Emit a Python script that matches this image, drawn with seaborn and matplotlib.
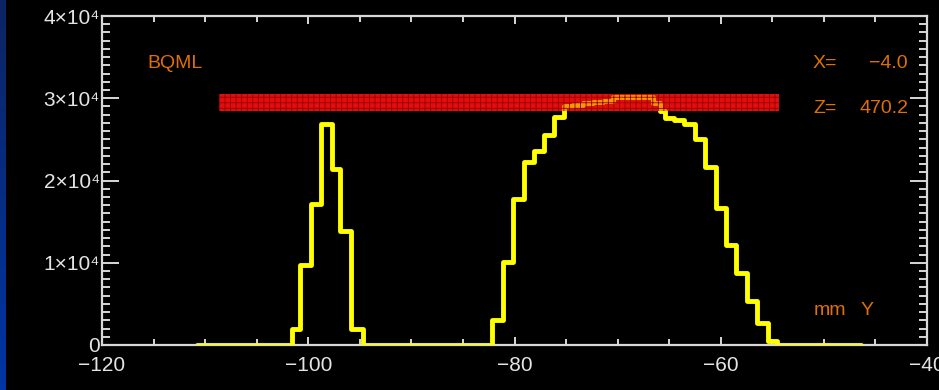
import numpy as np
import pandas as pd
import matplotlib
matplotlib.use("Agg")
import matplotlib.pyplot as plt
import seaborn as sns
from matplotlib import font_manager
from matplotlib.colors import LinearSegmentedColormap
from matplotlib.ticker import MultipleLocator

# profile along Y (mm): position where each step starts, and its level (BQML)
y_pos = [-110.8, -101.6, -100.8, -99.7, -98.8, -97.7, -96.9, -95.9, -94.7,
         -82.2, -81.1, -80.1, -79.1, -78.1, -77.1, -76.2, -75.2, -74.3,
         -73.4, -72.4, -71.4, -70.4, -69.4, -68.4, -67.4, -66.6, -65.9,
         -65.4, -64.5, -63.6, -62.5, -61.5, -60.5, -59.5, -58.5, -57.5,
         -56.5, -55.4, -54.5, -46.4]
counts = [0, 1950, 9700, 17200, 26900, 21400, 13900, 1950, 0,
          3100, 10100, 17700, 22200, 23600, 25500, 27700, 29000, 29200,
          29400, 29600, 29700, 30100, 30200, 30200, 30100, 29400, 28500,
          27600, 27400, 26900, 25100, 21600, 16600, 12200, 8800, 5300,
          2700, 500, 0, 0]

# red threshold band
band_x = [-108.7, -54.35]
band_lo = 28500
band_hi = 30500

x_ticks = [-120, -100, -80, -60, -40]
x_ticklabels = ["\u2212120", "\u2212100", "\u221280", "\u221260", "\u221240"]
y_ticks = [0, 10000, 20000, 30000, 40000]
y_ticklabels = ["0", "1\u00d710\u2074", "2\u00d710\u2074", "3\u00d710\u2074", "4\u00d710\u2074"]

unit_label = "BQML"
cursor_labels = ["X=", "Z="]
cursor_values = ["\u22124.0", "470.2"]
axis_unit = "mm"
axis_name = "Y"

sns.set_theme(style="ticks")
names = {f.name for f in font_manager.fontManager.ttflist}
narrow = "Liberation Sans Narrow" if "Liberation Sans Narrow" in names else "Liberation Sans"
plt.rcParams["font.family"] = [narrow, "DejaVu Sans"]

W, H = 939, 390
fig = plt.figure(figsize=(W / 100, H / 100), dpi=100, facecolor="black")
ax = fig.add_axes([102 / W, 45 / H, 825 / W, 329 / H])
ax.set_facecolor("black")

# blue strip on the left edge
strip = fig.add_axes([0, 0, 6 / W, 1])
strip_cmap = LinearSegmentedColormap.from_list("strip", ["#0b2563", "#0035a5"])
strip.imshow(np.linspace(0, 1, 100).reshape(-1, 1), aspect="auto", cmap=strip_cmap)
strip.axis("off")

df = pd.DataFrame({"y_mm": y_pos, "bqml": counts})

ax.fill_between(band_x, band_lo, band_hi, color="#dc1212", lw=0, zorder=2)
sns.lineplot(data=df, x="y_mm", y="bqml", drawstyle="steps-post", estimator=None,
             color="#ffff00", lw=3.5, ax=ax, zorder=3)
plt.rcParams["hatch.linewidth"] = 0.6
ax.fill_between(band_x, band_lo, band_hi, facecolor=(0.9, 0.05, 0.05, 0.42),
                edgecolor="#9a0000", hatch="+++", lw=0, zorder=4)

ax.set_xlim(-120, -40)
ax.set_ylim(0, 40000)
ax.set_xticks(x_ticks)
ax.set_xticklabels(x_ticklabels)
ax.set_yticks(y_ticks)
ax.set_yticklabels(y_ticklabels)
ax.xaxis.set_minor_locator(MultipleLocator(5))
ax.yaxis.set_minor_locator(MultipleLocator(1000))
ax.set_xlabel("")
ax.set_ylabel("")

grey = "#d8d8d8"
for s in ax.spines.values():
    s.set_color(grey)
    s.set_linewidth(1.6)
ax.tick_params(which="both", direction="in", top=True, right=True,
               color=grey, labelcolor="#e4e4e4", width=1.4, labelsize=15)
ax.tick_params(axis="x", which="major", length=5.5, pad=8)
ax.tick_params(axis="x", which="minor", length=4)
ax.tick_params(axis="y", which="major", length=12, pad=1.5)
ax.tick_params(axis="y", which="minor", length=6)

orange = "#e07000"
fig.text(147 / W, 1 - 68 / H, unit_label, color=orange, fontsize=14, va="baseline")
for lab, val, yb in zip(cursor_labels, cursor_values, [68, 113]):
    fig.text(813 / W, 1 - yb / H, lab, color=orange, fontsize=14, va="baseline")
    fig.text(908 / W, 1 - yb / H, val, color=orange, fontsize=14, va="baseline", ha="right")
fig.text(814 / W, 1 - 315 / H, axis_unit, color=orange, fontsize=14, va="baseline")
fig.text(861 / W, 1 - 315 / H, axis_name, color=orange, fontsize=14, va="baseline")

fig.savefig("out.png", dpi=100, facecolor="black")
